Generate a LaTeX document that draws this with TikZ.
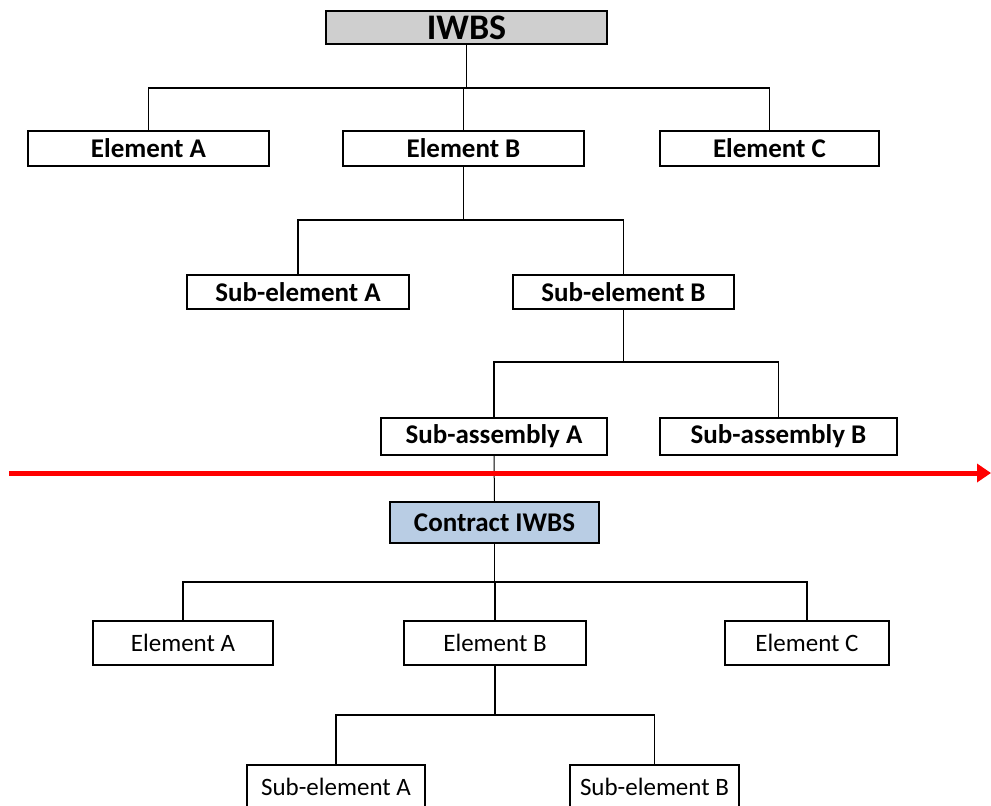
\documentclass[tikz,border=0pt]{standalone}
\usepackage{fontspec}
\setmainfont{Carlito}
\usetikzlibrary{arrows.meta}

\tikzset{
  box/.style={draw=black, line width=2pt, fill=white, inner sep=0pt, anchor=center},
  upper/.style={box, font=\fontsize{27}{30}\selectfont\bfseries},
  lower/.style={box, font=\fontsize{25}{28}\selectfont},
  link/.style={draw=black, line width=1.5pt},
  bus/.style={draw=black, line width=1.5pt},
}

\begin{document}
\begin{tikzpicture}[x=1pt, y=-1pt]
\useasboundingbox (0,0) rectangle (991,806);
\clip (0,0) rectangle (991,806);

% ---- integrated WBS (upper tree)
\node[upper, fill=black!19, minimum width=281pt, minimum height=33pt,
      font=\fontsize{36}{40}\selectfont\bfseries] (iwbs) at (466.5,27.5) {IWBS};

\node[upper, minimum width=241pt, minimum height=35pt] (ea) at (148.5,148.5) {Element A};
\node[upper, minimum width=241pt, minimum height=35pt] (eb) at (463.5,148.5) {Element B};
\node[upper, minimum width=219pt, minimum height=35pt] (ec) at (769.5,148.5) {Element C};

\node[upper, minimum width=222pt, minimum height=34pt] (sea) at (298,292) {Sub-element A};
\node[upper, minimum width=221pt, minimum height=34pt] (seb) at (623.5,292) {Sub-element B};

\node[upper, minimum width=226pt, minimum height=37pt] (saa) at (494,436.5) {Sub-assembly A};
\node[upper, minimum width=237pt, minimum height=37pt] (sab) at (778.5,436.5) {Sub-assembly B};

% ---- contract WBS (lower tree)
\node[box, fill={rgb,255:red,185;green,205;blue,228}, minimum width=209pt, minimum height=41pt,
      font=\fontsize{27}{30}\selectfont\bfseries] (ciwbs) at (494.5,522.5) {Contract IWBS};

\node[lower, minimum width=180pt, minimum height=44pt] (la) at (183,643) {Element A};
\node[lower, minimum width=182pt, minimum height=44pt] (lb) at (495,643) {Element B};
\node[lower, minimum width=164pt, minimum height=44pt] (lc) at (807,643) {Element C};

\node[lower, minimum width=178pt, minimum height=44pt] (lsa) at (336,787) {Sub-element A};
\node[lower, minimum width=169pt, minimum height=44pt] (lsb) at (654.5,787) {Sub-element B};

% ---- connectors, upper tree
\coordinate (b1) at (0,88);
\draw[link] (iwbs.south) -- (iwbs.south |- b1);
\draw[bus] (ea.north) |- (ec.north |- b1) -- (ec.north);
\draw[link] (eb.north) -- (eb.north |- b1);

\coordinate (b2) at (0,220);
\draw[link] (eb.south) -- (eb.south |- b2);
\draw[bus] (sea.north) |- (seb.north |- b2) -- (seb.north);

\coordinate (b3) at (0,362);
\draw[link] (seb.south) -- (seb.south |- b3);
\draw[bus] (saa.north) |- (sab.north |- b3) -- (sab.north);

% sub-assembly A carries on as the contract IWBS
\draw[link, line width=1pt] (saa.south) -- (ciwbs.north);

% ---- connectors, lower tree
\coordinate (b4) at (0,582);
\draw[link] (ciwbs.south) -- (ciwbs.south |- b4);
\draw[bus] (la.north) |- (lc.north |- b4) -- (lc.north);
\draw[link] (lb.north) -- (lb.north |- b4);

\coordinate (b5) at (0,715);
\draw[link] (lb.south) -- (lb.south |- b5);
\draw[bus] (lsa.north) |- (lsb.north |- b5) -- (lsb.north);

% ---- contract boundary
\coordinate (cutL) at (9,473);
\coordinate (cutR) at (991,473);
\draw[red, line width=5pt, -{Triangle[length=14pt, width=18pt]}] (cutL) -- (cutR);

\end{tikzpicture}
\end{document}
